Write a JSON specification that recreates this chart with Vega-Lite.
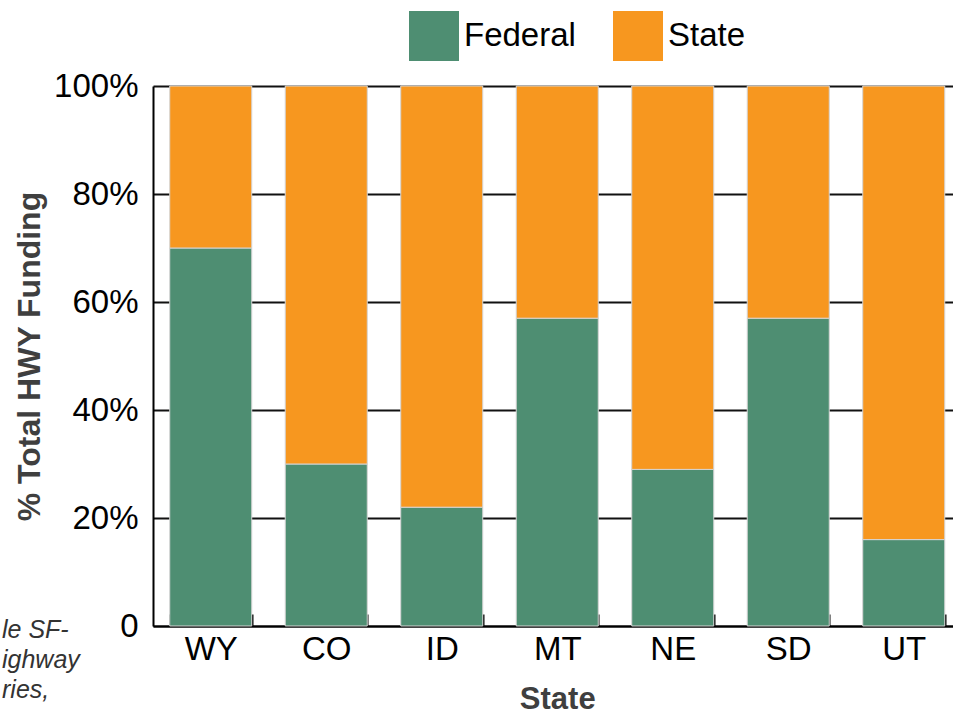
{
  "$schema": "https://vega.github.io/schema/vega-lite/v6.json",
  "autosize": "none",
  "width": 800,
  "height": 540,
  "padding": {"left": 153, "top": 86, "right": 0, "bottom": 90},
  "background": "white",
  "title": {
    "text": ["le SF-", "ighway", "ries,"],
    "orient": "bottom",
    "anchor": "start",
    "frame": "group",
    "dx": -151,
    "dy": -100,
    "font": "Liberation Sans",
    "fontStyle": "italic",
    "fontWeight": "normal",
    "fontSize": 25,
    "lineHeight": 30,
    "color": "#333333"
  },
  "data": {
    "values": [
      {"state": "WY", "source": "Federal", "pct": 70, "ord": 1},
      {"state": "WY", "source": "State", "pct": 30, "ord": 2},
      {"state": "CO", "source": "Federal", "pct": 30, "ord": 1},
      {"state": "CO", "source": "State", "pct": 70, "ord": 2},
      {"state": "ID", "source": "Federal", "pct": 22, "ord": 1},
      {"state": "ID", "source": "State", "pct": 78, "ord": 2},
      {"state": "MT", "source": "Federal", "pct": 57, "ord": 1},
      {"state": "MT", "source": "State", "pct": 43, "ord": 2},
      {"state": "NE", "source": "Federal", "pct": 29, "ord": 1},
      {"state": "NE", "source": "State", "pct": 71, "ord": 2},
      {"state": "SD", "source": "Federal", "pct": 57, "ord": 1},
      {"state": "SD", "source": "State", "pct": 43, "ord": 2},
      {"state": "UT", "source": "Federal", "pct": 16, "ord": 1},
      {"state": "UT", "source": "State", "pct": 84, "ord": 2}
    ]
  },
  "mark": {"type": "bar", "stroke": "#d4d4d4", "strokeWidth": 1},
  "encoding": {
    "x": {
      "field": "state",
      "type": "nominal",
      "sort": ["WY", "CO", "ID", "MT", "NE", "SD", "UT"],
      "scale": {"range": [0, 808.5], "paddingInner": 0.29, "paddingOuter": 0.145},
      "axis": {
        "title": "State",
        "labelAngle": 0,
        "labelFont": "Liberation Sans",
        "labelFontSize": 33,
        "labelColor": "#000000",
        "labelPadding": 19,
        "tickBand": "extent",
        "tickSize": -12,
        "tickColor": "#000000",
        "tickWidth": 2,
        "domainColor": "#000000",
        "domainWidth": 2,
        "titleFont": "Liberation Sans",
        "titleFontSize": 31,
        "titleFontWeight": "bold",
        "titleColor": "#3f3f3f",
        "titlePadding": 18
      }
    },
    "y": {
      "field": "pct",
      "type": "quantitative",
      "stack": "zero",
      "scale": {"domain": [0, 100], "nice": false},
      "axis": {
        "title": "% Total HWY Funding",
        "values": [0, 20, 40, 60, 80, 100],
        "labelExpr": "datum.value == 0 ? '0' : datum.value + '%'",
        "labelFont": "Liberation Sans",
        "labelFontSize": 33,
        "labelColor": "#000000",
        "labelPadding": 15,
        "ticks": false,
        "domainColor": "#000000",
        "domainWidth": 2,
        "grid": true,
        "gridColor": "#111111",
        "gridWidth": 2,
        "titleFont": "Liberation Sans",
        "titleFontSize": 32,
        "titleFontWeight": "bold",
        "titleColor": "#3f3f3f",
        "titlePadding": 7
      }
    },
    "color": {
      "field": "source",
      "type": "nominal",
      "scale": {"domain": ["Federal", "State"], "range": ["#4e8e72", "#f7971f"]},
      "legend": {
        "title": null,
        "orient": "none",
        "direction": "horizontal",
        "legendX": 256,
        "legendY": -75,
        "symbolType": "square",
        "symbolSize": 2500,
        "symbolStrokeWidth": 0,
        "labelFont": "Liberation Sans",
        "labelFontSize": 33,
        "labelColor": "#000000",
        "labelOffset": 5,
        "columnPadding": 37
      }
    },
    "order": {"field": "ord", "type": "quantitative"}
  },
  "config": {
    "view": {"stroke": null}
  }
}
